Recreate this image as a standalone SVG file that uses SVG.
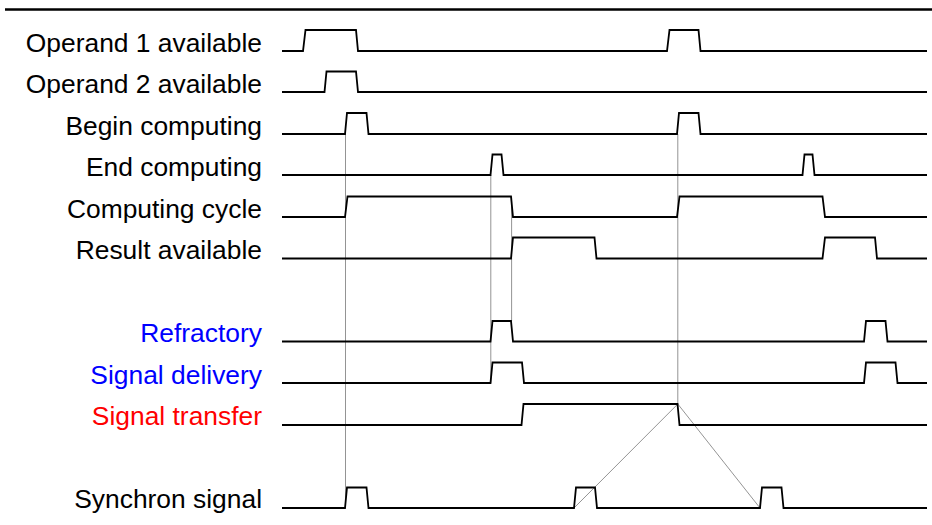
<svg xmlns="http://www.w3.org/2000/svg" width="932" height="525" viewBox="0 0 932 525">
<style>
.sig{fill:none;stroke:#000;stroke-width:1.8;stroke-linejoin:miter}
.guide{fill:none;stroke:#888;stroke-width:0.9}
.lbl{font-family:"Liberation Sans",Arial,sans-serif;font-size:26.4px;text-anchor:end;fill:#000}
.blue{fill:#0000FF}
.red{fill:#FF0000}
</style>
<rect width="932" height="525" fill="#fff"/>
<line x1="5" y1="9.5" x2="932" y2="9.5" stroke="#000" stroke-width="2.4"/>
<g id="connectors">
<line class="guide" x1="345.5" y1="134" x2="345.5" y2="508"/>
<line class="guide" x1="490.8" y1="175" x2="490.8" y2="383"/>
<line class="guide" x1="511.6" y1="196.5" x2="511.6" y2="321"/>
<line class="guide" x1="677.8" y1="134" x2="677.8" y2="404"/>
<line class="guide" x1="677.8" y1="404" x2="574" y2="508"/>
<line class="guide" x1="677.8" y1="404" x2="760" y2="508"/>
</g>
<g id="operand1">
<text class="lbl" x="262" y="52">Operand 1 available</text>
<path class="sig" d="M282,51 H303 L305.5,30 H356 L358,51 H667 L669.5,30 H698.5 L700.5,51 H927"/>
</g>
<g id="operand2">
<text class="lbl" x="262" y="93">Operand 2 available</text>
<path class="sig" d="M282,92 H324.5 L326.5,71.5 H356 L358,92 H927"/>
</g>
<g id="begin">
<text class="lbl" x="262" y="135">Begin computing</text>
<path class="sig" d="M282,134 H345 L347,113 H366.5 L368.5,134 H677 L679,113 H698.5 L700.5,134 H927"/>
</g>
<g id="end">
<text class="lbl" x="262" y="176">End computing</text>
<path class="sig" d="M282,175 H490.5 L492.5,154.5 H501.5 L503.5,175 H802.5 L804.5,154.5 H812.5 L814.5,175 H927"/>
</g>
<g id="cycle">
<text class="lbl" x="262" y="218">Computing cycle</text>
<path class="sig" d="M282,217 H345 L347.5,196.5 H511 L513,217 H677 L679.5,196.5 H822.5 L825,217 H927"/>
</g>
<g id="result">
<text class="lbl" x="262" y="259">Result available</text>
<path class="sig" d="M282,258.5 H511 L513,237.5 H594.5 L596.5,258.5 H822.5 L825,237.5 H875 L877,258.5 H927"/>
</g>
<g id="refractory">
<text class="lbl blue" x="262" y="342">Refractory</text>
<path class="sig" d="M282,341.5 H490.5 L492.5,321 H511 L513,341.5 H864 L866,321 H885.5 L887.5,341.5 H927"/>
</g>
<g id="delivery">
<text class="lbl blue" x="262" y="384">Signal delivery</text>
<path class="sig" d="M282,383 H490.5 L492.5,362.5 H522 L524,383 H864 L866,362.5 H895.5 L897.5,383 H927"/>
</g>
<g id="transfer">
<text class="lbl red" x="262" y="425">Signal transfer</text>
<path class="sig" d="M282,425 H521.5 L523.5,404 H677.5 L679.5,425 H927"/>
</g>
<g id="synchron">
<text class="lbl" x="262" y="508">Synchron signal</text>
<path class="sig" d="M282,508 H345 L347,487.5 H366.5 L368.5,508 H574 L576,487.5 H595 L597,508 H760 L762,487.5 H781.5 L783.5,508 H927"/>
</g>
</svg>
